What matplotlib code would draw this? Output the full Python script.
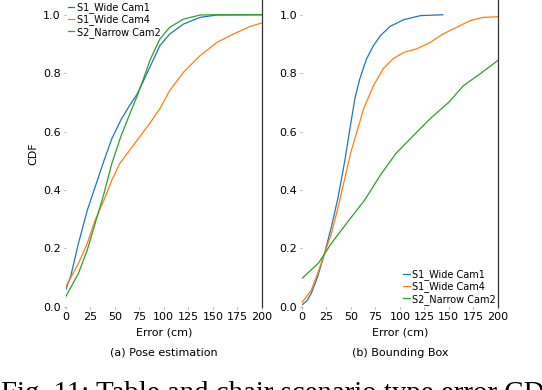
import numpy as np
import matplotlib.pyplot as plt

plt.rcParams['font.family'] = 'DejaVu Sans'

labels = ["S1_Wide Cam1", "S1_Wide Cam4", "S2_Narrow Cam2"]
colors = ["tab:blue", "tab:orange", "tab:green"]

# (a) Pose estimation - error (cm) vs CDF
pose_cam1_x = [0, 5, 13, 22, 30, 39, 47, 56, 64, 73, 81, 86, 96, 106, 120, 137, 154, 200]
pose_cam1_y = [0.057, 0.103, 0.217, 0.33, 0.41, 0.50, 0.575, 0.638, 0.683, 0.729, 0.786, 0.822, 0.894, 0.934, 0.968, 0.991, 0.999, 1.0]
pose_cam4_x = [0, 13, 22, 30, 39, 47, 55, 65, 75, 85, 96, 106, 120, 137, 154, 171, 188, 200]
pose_cam4_y = [0.068, 0.148, 0.217, 0.296, 0.365, 0.433, 0.49, 0.535, 0.58, 0.625, 0.678, 0.74, 0.803, 0.86, 0.905, 0.934, 0.96, 0.972]
pose_cam2_x = [0, 13, 22, 30, 39, 47, 56, 64, 73, 81, 86, 96, 106, 120, 137, 150, 200]
pose_cam2_y = [0.034, 0.114, 0.194, 0.285, 0.387, 0.49, 0.581, 0.649, 0.723, 0.797, 0.845, 0.917, 0.957, 0.985, 0.999, 1.0, 1.0]

# (b) Bounding box
bbox_cam1_x = [0, 5, 9.5, 16, 23, 30, 37, 44, 49, 54, 59, 66, 73, 80, 90, 104, 121, 144]
bbox_cam1_y = [0.006, 0.02, 0.046, 0.103, 0.182, 0.273, 0.376, 0.505, 0.61, 0.712, 0.78, 0.849, 0.894, 0.928, 0.96, 0.983, 0.997, 1.0]
bbox_cam4_x = [0, 9.5, 16, 23, 30, 37, 44, 50, 56, 63, 73, 83, 93, 104, 117, 131, 144, 158, 172, 185, 200]
bbox_cam4_y = [0.014, 0.057, 0.114, 0.182, 0.25, 0.342, 0.444, 0.53, 0.598, 0.678, 0.757, 0.815, 0.849, 0.871, 0.883, 0.905, 0.934, 0.957, 0.98, 0.991, 0.993]
bbox_cam2_x = [0, 17, 30, 50, 64, 80, 96, 115, 131, 150, 165, 183, 200]
bbox_cam2_y = [0.097, 0.15, 0.217, 0.305, 0.365, 0.45, 0.525, 0.59, 0.644, 0.7, 0.757, 0.8, 0.843]

xticks = [0, 25, 50, 75, 100, 125, 150, 175, 200]
yticks = [0.0, 0.2, 0.4, 0.6, 0.8, 1.0]

fig = plt.figure(figsize=(5.42, 3.9), dpi=100)
ax1 = fig.add_axes([0.1212, 0.2136, 0.362, 0.786])
ax2 = fig.add_axes([0.5572, 0.2136, 0.361, 0.786])

pose = [(pose_cam1_x, pose_cam1_y), (pose_cam4_x, pose_cam4_y), (pose_cam2_x, pose_cam2_y)]
bbox = [(bbox_cam1_x, bbox_cam1_y), (bbox_cam4_x, bbox_cam4_y), (bbox_cam2_x, bbox_cam2_y)]

for ax, series in [(ax1, pose), (ax2, bbox)]:
    for (x, y), lab, c in zip(series, labels, colors):
        ax.plot(x, y, color=c, lw=0.9, label=lab)
    ax.set_xlim(0, 200)
    ax.set_ylim(0, 1.05)
    ax.set_xticks(xticks)
    ax.set_yticks(yticks)
    ax.tick_params(labelsize=8, length=1.5, width=0.5, pad=2, color='#888888')
    for s in ['left', 'top', 'bottom']:
        ax.spines[s].set_visible(False)
    ax.spines['right'].set_color('#333333')
    ax.spines['right'].set_linewidth(0.9)
    ax.set_xlabel("Error (cm)", fontsize=8)
    ax.xaxis.set_label_coords(0.5, -0.068)

ax1.set_ylabel("CDF", fontsize=8)
ax1.yaxis.set_label_coords(-0.141, 0.5)

leg_kw = dict(fontsize=7, frameon=False, handlelength=0.7, handletextpad=0.25,
              labelspacing=0.15, borderaxespad=0.1, borderpad=0.1)
ax1.legend(loc='upper left', **leg_kw)
ax2.legend(loc='lower right', **leg_kw)

fig.text(0.302, 0.095, "(a) Pose estimation", fontsize=8, ha='center', va='center')
fig.text(0.738, 0.095, "(b) Bounding Box", fontsize=8, ha='center', va='center')
fig.text(0.001, -0.028, "Fig. 11: Table and chair scenario type error CDF",
         fontsize=20.8, family='Liberation Serif', ha='left', va='baseline')

fig.savefig("out.png", dpi=100)
